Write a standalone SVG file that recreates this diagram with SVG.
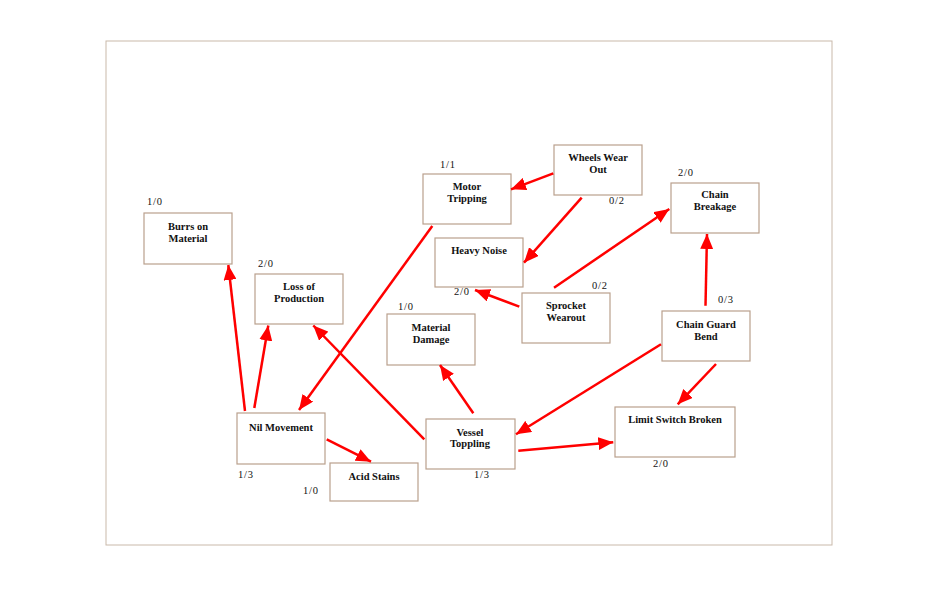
<svg xmlns="http://www.w3.org/2000/svg" width="950" height="594" viewBox="0 0 950 594">
<style>
.box{fill:#fff;stroke:#b9a08d;stroke-width:1.2}
.t{font-family:"Liberation Serif","DejaVu Serif",serif;font-size:10.5px;font-weight:bold;fill:#111;text-anchor:middle}
.n{font-family:"Liberation Serif","DejaVu Serif",serif;font-size:10.5px;fill:#111;letter-spacing:0.8px}
.e{stroke:#f00;stroke-width:2.5;fill:none;marker-end:url(#ah)}
</style>
<defs>
<marker id="ah" markerUnits="userSpaceOnUse" markerWidth="15" markerHeight="13" refX="15" refY="6.5" orient="auto">
<path d="M0,0 L15,6.5 L0,13 z" fill="#f00"/>
</marker>
</defs>
<rect x="0" y="0" width="950" height="594" fill="#fff"/>
<rect x="106" y="41" width="726" height="504" fill="none" stroke="#c9b9aa" stroke-width="1"/>

<g id="burrs"><rect class="box" x="144" y="213" width="88" height="51"/><text class="t" x="188" y="229.5">Burrs on</text><text class="t" x="188" y="241.5">Material</text><text class="n" x="147" y="205">1/0</text></g>
<g id="loss"><rect class="box" x="255" y="274" width="88" height="50"/><text class="t" x="299" y="290">Loss of</text><text class="t" x="299" y="302">Production</text><text class="n" x="258" y="267">2/0</text></g>
<g id="motor"><rect class="box" x="423" y="174" width="88" height="50"/><text class="t" x="467" y="190">Motor</text><text class="t" x="467" y="202">Tripping</text><text class="n" x="440" y="168">1/1</text></g>
<g id="wheels"><rect class="box" x="554" y="145" width="88" height="50"/><text class="t" x="598" y="161">Wheels Wear</text><text class="t" x="598" y="173">Out</text><text class="n" x="609" y="204">0/2</text></g>
<g id="noise"><rect class="box" x="435" y="238" width="88" height="49"/><text class="t" x="479" y="253.5">Heavy Noise</text><text class="n" x="454" y="295">2/0</text></g>
<g id="sprocket"><rect class="box" x="522" y="293" width="88" height="50"/><text class="t" x="566" y="309">Sprocket</text><text class="t" x="566" y="321">Wearout</text><text class="n" x="592" y="288.5">0/2</text></g>
<g id="breakage"><rect class="box" x="671" y="183" width="88" height="50"/><text class="t" x="715" y="198">Chain</text><text class="t" x="715" y="210">Breakage</text><text class="n" x="678" y="175.5">2/0</text></g>
<g id="guard"><rect class="box" x="662" y="311" width="88" height="50"/><text class="t" x="706" y="328">Chain Guard</text><text class="t" x="706" y="340">Bend</text><text class="n" x="718" y="302.5">0/3</text></g>
<g id="damage"><rect class="box" x="387" y="314" width="88" height="51"/><text class="t" x="431" y="330.5">Material</text><text class="t" x="431" y="343">Damage</text><text class="n" x="398" y="310">1/0</text></g>
<g id="nil"><rect class="box" x="237" y="413" width="88" height="51"/><text class="t" x="281" y="430.5">Nil Movement</text><text class="n" x="238" y="478">1/3</text></g>
<g id="acid"><rect class="box" x="330" y="463" width="88" height="38"/><text class="t" x="374" y="480">Acid Stains</text><text class="n" x="303" y="494">1/0</text></g>
<g id="vessel"><rect class="box" x="426" y="419" width="89" height="50"/><text class="t" x="470" y="435.5">Vessel</text><text class="t" x="470" y="447">Toppling</text><text class="n" x="474" y="478">1/3</text></g>
<g id="limit"><rect class="box" x="615" y="407" width="120" height="50"/><text class="t" x="675" y="422.5">Limit Switch Broken</text><text class="n" x="653" y="466.5">2/0</text></g>

<g id="connectors">
<line class="e" x1="245" y1="411" x2="228.3" y2="265"/>
<line class="e" x1="254.3" y1="408" x2="268.3" y2="325.5"/>
<line class="e" x1="424.3" y1="439.3" x2="313.3" y2="325.5"/>
<line class="e" x1="432.3" y1="226" x2="299" y2="410"/>
<line class="e" x1="553.3" y1="173.3" x2="511" y2="189.3"/>
<line class="e" x1="581.7" y1="197.7" x2="524" y2="262.7"/>
<line class="e" x1="519.3" y1="306.7" x2="475" y2="290"/>
<line class="e" x1="554" y1="287.7" x2="669.3" y2="209"/>
<line class="e" x1="705.5" y1="305.7" x2="707" y2="234"/>
<line class="e" x1="661" y1="344.3" x2="516" y2="434.3"/>
<line class="e" x1="716" y1="364" x2="677.7" y2="404.3"/>
<line class="e" x1="518.3" y1="450.7" x2="613.3" y2="442.3"/>
<line class="e" x1="473.3" y1="413.3" x2="440" y2="365"/>
<line class="e" x1="326.7" y1="439.3" x2="371" y2="461.7"/>
</g>
</svg>
